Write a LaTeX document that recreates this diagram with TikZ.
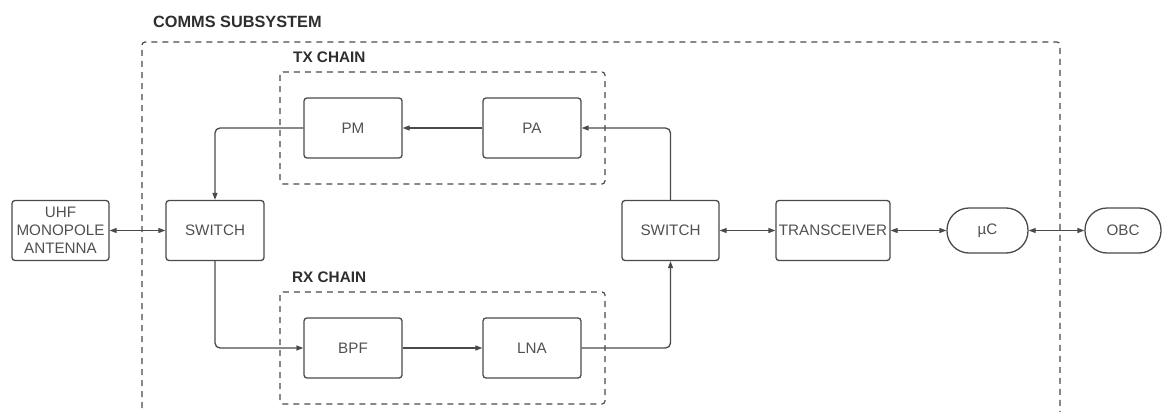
\documentclass[tikz,border=0pt]{standalone}
\usepackage{fontspec}
\setmainfont{Liberation Sans}
\usetikzlibrary{arrows.meta}
\definecolor{boxc}{HTML}{4A4A4A}
\definecolor{txtc}{HTML}{505050}
\definecolor{lblc}{HTML}{2E2E2E}
\tikzset{
  blk/.style={draw=boxc, line width=1.3pt, rounded corners=3pt, minimum width=98pt, minimum height=60pt, inner sep=0pt, text=txtc, font=\fontsize{15.2}{18}\selectfont, align=center},
  pill/.style={draw=boxc, line width=1.3pt, rounded corners=22pt, minimum width=81pt, minimum height=45pt, inner sep=0pt, text=txtc, font=\fontsize{15.2}{18}\selectfont},
  grp/.style={draw=boxc, line width=1.2pt, dash pattern=on 6pt off 5pt, rounded corners=3pt},
  lbl/.style={text=lblc, font=\bfseries\fontsize{15.3}{18}\selectfont, anchor=west, inner sep=0pt},
  conn/.style={draw=boxc, line width=1.3pt, rounded corners=5pt, -{Triangle[length=7pt,width=5pt]}},
  bconn/.style={draw=boxc, line width=1.3pt, {Triangle[length=7pt,width=5pt]}-{Triangle[length=7pt,width=5pt]}}
}
\begin{document}
\begin{tikzpicture}[x=1pt,y=-1pt]
\useasboundingbox (0,0) rectangle (1162,412);
\clip (0,0) rectangle (1162,412);
% groups
\draw[grp] (142,430) -- (142,42) -- (1060,42) -- (1060,430);
\draw[grp] (280,72) rectangle (605,184);
\draw[grp] (280,292) rectangle (605,404);
\node[lbl, font=\bfseries\fontsize{16.3}{19}\selectfont] (ttl) at (153,22) {COMMS SUBSYSTEM};
\node[lbl] (txl) at (293,57) {TX CHAIN};
\node[lbl] (rxl) at (292,277) {RX CHAIN};
% blocks
\node[blk, minimum width=97pt] (ant) at (60.5,230.5) {UHF\\MONOPOLE\\ANTENNA};
\node[blk] (sw1) at (215,230.5) {SWITCH};
\node[blk] (pm) at (353,128) {PM};
\node[blk] (pa) at (532,128) {PA};
\node[blk] (bpf) at (353,348) {BPF};
\node[blk] (lna) at (532,348) {LNA};
\node[blk, minimum width=97pt] (sw2) at (670.5,230.5) {SWITCH};
\node[blk, minimum width=114pt] (trx) at (833,230.5) {TRANSCEIVER};
\node[pill] (uc) at (987.5,230.5) {µC};
\node[pill, minimum width=76pt] (obc) at (1123,230.5) {OBC};
% connectors
\draw[bconn] (ant.east) -- (sw1.west);
\draw[conn] (pm.west) -| (sw1.north);
\draw[conn] (pa.west) -- (pm.east);
\draw[conn] (sw2.north) |- (pa.east);
\draw[conn] (sw1.south) |- (bpf.west);
\draw[conn] (bpf.east) -- (lna.west);
\draw[conn] (lna.east) -| (sw2.south);
\draw[bconn] (sw2.east) -- (trx.west);
\draw[bconn] (trx.east) -- (uc.west);
\draw[bconn] (uc.east) -- (obc.west);
\end{tikzpicture}
\end{document}
